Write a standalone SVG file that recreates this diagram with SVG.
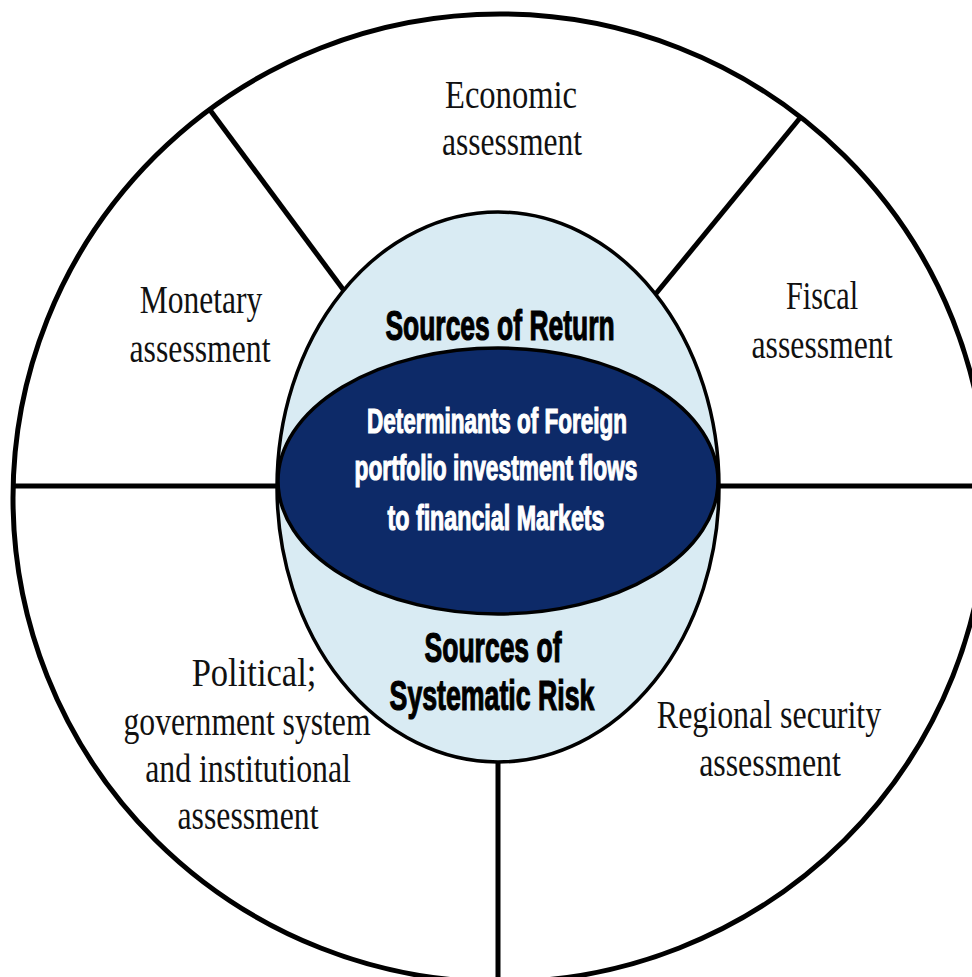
<svg xmlns="http://www.w3.org/2000/svg" width="972" height="977" viewBox="0 0 972 977">
  <style>
    .rim { fill: #ffffff; stroke: #000000; stroke-width: 5; }
    .divider { stroke: #000000; stroke-width: 5; stroke-linecap: butt; fill: none; }
    .halo { fill: #d9ebf3; stroke: #000000; stroke-width: 3.5; }
    .core { fill: #0d2a68; stroke: #000000; stroke-width: 3.5; }
    .serif { font-family: "Liberation Serif", "Times New Roman", serif; font-size: 40px; fill: #111111; text-anchor: middle; }
    .heavy { font-family: "Liberation Sans", Arial, sans-serif; font-weight: bold; text-anchor: middle; stroke-width: 1.2; }
    .dark { font-size: 42px; fill: #000000; stroke: #000000; }
    .light { font-size: 35px; fill: #ffffff; stroke: #ffffff; }
  </style>

  <rect x="0" y="0" width="972" height="977" fill="#ffffff"/>

  <!-- outer ring -->
  <g id="ring">
    <ellipse class="rim" cx="500" cy="498" rx="487" ry="484"/>
  </g>

  <!-- sector dividers -->
  <g id="connectors">
    <line class="divider" x1="210" y1="110" x2="345" y2="292"/>
    <line class="divider" x1="800" y1="118" x2="654" y2="296"/>
    <line class="divider" x1="13" y1="486" x2="280" y2="486"/>
    <line class="divider" x1="716" y1="486" x2="972" y2="486"/>
    <line class="divider" x1="498" y1="760" x2="498" y2="977"/>
  </g>

  <!-- sectors (serif labels drawn narrow: scale 0.81 horizontally) -->
  <g id="economic">
    <text class="serif" transform="translate(511 108) scale(0.81 1)" textLength="163" lengthAdjust="spacingAndGlyphs">Economic</text>
    <text class="serif" transform="translate(512 155) scale(0.81 1)" textLength="173" lengthAdjust="spacingAndGlyphs">assessment</text>
  </g>
  <g id="monetary">
    <text class="serif" transform="translate(201 313) scale(0.81 1)" textLength="151" lengthAdjust="spacingAndGlyphs">Monetary</text>
    <text class="serif" transform="translate(200 362) scale(0.81 1)" textLength="174" lengthAdjust="spacingAndGlyphs">assessment</text>
  </g>
  <g id="fiscal">
    <text class="serif" transform="translate(822 309) scale(0.81 1)" textLength="89" lengthAdjust="spacingAndGlyphs">Fiscal</text>
    <text class="serif" transform="translate(822 358) scale(0.81 1)" textLength="174" lengthAdjust="spacingAndGlyphs">assessment</text>
  </g>
  <g id="political">
    <text class="serif" transform="translate(254 686) scale(0.81 1)" textLength="154" lengthAdjust="spacingAndGlyphs">Political;</text>
    <text class="serif" transform="translate(247 735) scale(0.81 1)" textLength="305" lengthAdjust="spacingAndGlyphs">government system</text>
    <text class="serif" transform="translate(248 782) scale(0.81 1)" textLength="254" lengthAdjust="spacingAndGlyphs">and institutional</text>
    <text class="serif" transform="translate(248 829) scale(0.81 1)" textLength="174" lengthAdjust="spacingAndGlyphs">assessment</text>
  </g>
  <g id="regional">
    <text class="serif" transform="translate(769 728) scale(0.81 1)" textLength="277" lengthAdjust="spacingAndGlyphs">Regional security</text>
    <text class="serif" transform="translate(770 776) scale(0.81 1)" textLength="175" lengthAdjust="spacingAndGlyphs">assessment</text>
  </g>

  <!-- return / risk halo (heavy labels drawn narrow: scale 0.64 horizontally) -->
  <g id="sources">
    <ellipse class="halo" cx="498" cy="487" rx="221" ry="275"/>
    <text class="heavy dark" transform="translate(500 340) scale(0.64 1)" textLength="358" lengthAdjust="spacingAndGlyphs">Sources of Return</text>
    <text class="heavy dark" transform="translate(493 662) scale(0.64 1)" textLength="214" lengthAdjust="spacingAndGlyphs">Sources of</text>
    <text class="heavy dark" transform="translate(492 710) scale(0.64 1)" textLength="320" lengthAdjust="spacingAndGlyphs">Systematic Risk</text>
  </g>

  <!-- central determinants -->
  <g id="determinants">
    <ellipse class="core" cx="498" cy="481" rx="220" ry="133"/>
    <text class="heavy light" transform="translate(497 433) scale(0.64 1)" textLength="406" lengthAdjust="spacingAndGlyphs">Determinants of Foreign</text>
    <text class="heavy light" transform="translate(496 480) scale(0.64 1)" textLength="442" lengthAdjust="spacingAndGlyphs">portfolio investment flows</text>
    <text class="heavy light" transform="translate(496 530) scale(0.64 1)" textLength="339" lengthAdjust="spacingAndGlyphs">to financial Markets</text>
  </g>
</svg>
